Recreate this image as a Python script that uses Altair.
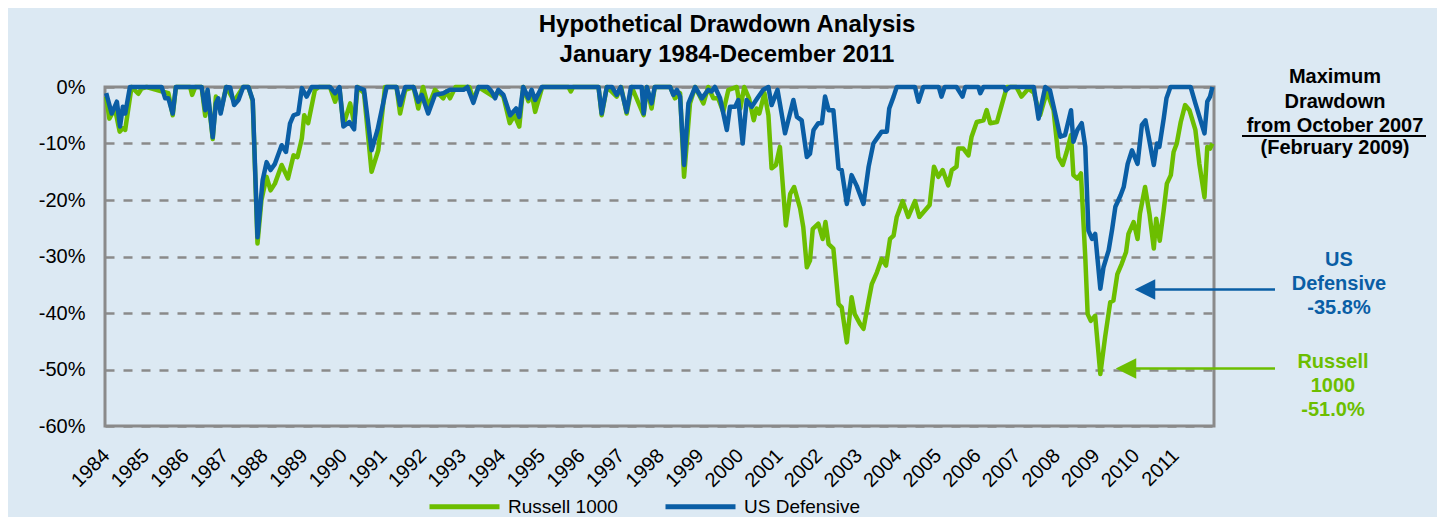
import altair as alt
import pandas as pd

# ---------------- data ----------------
russell_years = [
    1984.03, 1984.11, 1984.25, 1984.37, 1984.45, 1984.51, 1984.67, 1984.84, 1984.92, 1985.05,
    1985.60, 1985.71, 1985.79, 1986.15, 1986.20, 1986.28, 1986.44, 1986.53, 1986.59, 1986.72,
    1986.80, 1986.92, 1987.06, 1987.26, 1987.49, 1987.62, 1987.73, 1987.85, 1987.95, 1988.08,
    1988.18, 1988.29, 1988.46, 1988.62, 1988.76, 1988.86, 1988.97, 1989.03, 1989.13, 1989.30,
    1989.40, 1989.68, 1989.81, 1989.92, 1990.02, 1990.19, 1990.29, 1990.38, 1990.54, 1990.73,
    1990.90, 1991.07, 1991.36, 1991.45, 1991.58, 1991.79, 1991.91, 1992.03, 1992.16, 1992.33,
    1992.54, 1992.62, 1992.71, 1992.85, 1993.20, 1993.30, 1993.43, 1993.81, 1993.93, 1994.06,
    1994.22, 1994.34, 1994.46, 1994.56, 1994.69, 1994.77, 1994.86, 1995.04, 1995.70, 1995.76,
    1995.82, 1996.46, 1996.54, 1996.67, 1996.92, 1997.03, 1997.17, 1997.30, 1997.60, 1997.68,
    1997.80, 1997.88, 1998.27, 1998.39, 1998.52, 1998.62, 1998.77, 1998.90, 1999.11, 1999.23,
    1999.36, 1999.48, 1999.61, 1999.74, 1999.95, 2000.04, 2000.14, 2000.26, 2000.38, 2000.45,
    2000.52, 2000.65, 2000.75, 2000.83, 2000.94, 2001.04, 2001.19, 2001.30, 2001.40, 2001.55,
    2001.63, 2001.72, 2001.80, 2001.87, 2002.01, 2002.12, 2002.19, 2002.27, 2002.39, 2002.52,
    2002.60, 2002.73, 2002.85, 2002.93, 2003.07, 2003.15, 2003.28, 2003.36, 2003.49, 2003.61,
    2003.72, 2003.82, 2003.91, 2003.99, 2004.14, 2004.28, 2004.45, 2004.56, 2004.82, 2004.93,
    2005.04, 2005.15, 2005.29, 2005.38, 2005.50, 2005.54, 2005.67, 2005.80, 2005.88, 2006.01,
    2006.18, 2006.26, 2006.35, 2006.52, 2006.64, 2006.77, 2007.01, 2007.14, 2007.31, 2007.45,
    2007.61, 2007.78, 2007.95, 2008.07, 2008.18, 2008.28, 2008.39, 2008.45, 2008.55, 2008.64,
    2008.75, 2008.81, 2008.89, 2009.00, 2009.13, 2009.25, 2009.38, 2009.46, 2009.56, 2009.67,
    2009.78, 2009.84, 2009.97, 2010.07, 2010.13, 2010.26, 2010.37, 2010.48, 2010.54, 2010.63,
    2010.73, 2010.81, 2010.91, 2010.98, 2011.06, 2011.16, 2011.27, 2011.38, 2011.53, 2011.63,
    2011.76, 2011.83, 2011.90, 2011.96,
]
russell_values = [
    -1.7, -5.6, -3.8, -7.9, -7.3, -7.6, 0.0, -1.2, -0.3, 0.0,
    -1.1, -5.0, 0.0, 0.0, -1.4, 0.0, 0.0, -5.1, -0.8, -9.2,
    -1.7, -4.4, 0.0, -2.5, 0.0, 0.0, -2.5, -27.7, -20.0, -15.9,
    -18.3, -17.1, -13.8, -16.2, -12.1, -12.4, -9.1, -5.0, -6.4, -0.5,
    0.0, 0.0, -2.6, -0.3, -6.7, -2.9, -6.4, 0.0, -1.1, -15.0,
    -11.2, 0.0, 0.0, -4.7, -0.5, 0.0, -3.8, 0.0, -3.5, -0.5,
    -2.0, -0.8, -2.0, 0.0, 0.0, -2.3, 0.0, -1.7, -0.8, -1.7,
    -6.4, -5.0, -7.0, 0.0, -2.5, -1.0, -4.4, 0.0, 0.0, -0.8,
    0.0, 0.0, -5.0, 0.0, -1.7, 0.0, -4.7, 0.0, -5.0, 0.0,
    -3.8, 0.0, 0.0, -2.0, -1.1, -15.9, -2.9, 0.0, -2.9, 0.0,
    -2.0, -2.0, -4.4, -0.5, 0.0, -3.8, 0.0, -2.0, -5.9, -3.8,
    -4.7, -1.1, -5.0, -14.4, -13.8, -10.6, -24.5, -18.9, -17.7, -21.5,
    -24.8, -31.9, -30.7, -25.1, -24.2, -26.9, -23.9, -27.8, -28.6, -38.4,
    -39.0, -45.2, -37.2, -40.2, -42.0, -42.8, -37.8, -34.9, -32.8, -30.4,
    -31.6, -26.9, -26.3, -23.0, -20.2, -23.0, -20.2, -23.0, -20.9, -14.1,
    -15.9, -14.7, -17.4, -14.7, -14.1, -10.9, -10.9, -12.1, -8.8, -6.2,
    -5.9, -4.1, -6.4, -6.2, -3.2, 0.0, 0.0, -1.7, -0.3, -1.0,
    -5.0, -0.8, -4.1, -12.4, -13.8, -11.5, -8.5, -15.6, -16.2, -15.3,
    -30.1, -40.2, -41.4, -40.5, -50.8, -44.3, -38.1, -37.8, -33.1, -31.3,
    -29.2, -26.0, -23.9, -26.9, -22.4, -17.7, -22.4, -28.6, -23.3, -27.2,
    -21.8, -17.1, -15.6, -11.5, -10.0, -6.2, -3.2, -4.1, -7.6, -13.6,
    -19.5, -10.6, -10.9, -10.0,
]

defensive_years = [
    1984.03, 1984.17, 1984.30, 1984.38, 1984.45, 1984.51, 1984.63, 1985.43, 1985.52, 1985.60,
    1985.71, 1985.79, 1986.44, 1986.53, 1986.59, 1986.72, 1986.80, 1986.86, 1986.92, 1987.06,
    1987.16, 1987.26, 1987.37, 1987.49, 1987.62, 1987.73, 1987.85, 1987.98, 1988.08, 1988.18,
    1988.29, 1988.46, 1988.57, 1988.67, 1988.76, 1988.88, 1988.97, 1989.09, 1989.22, 1989.68,
    1989.81, 1989.92, 1990.02, 1990.17, 1990.29, 1990.36, 1990.54, 1990.73, 1990.88, 1991.11,
    1991.36, 1991.45, 1991.58, 1991.79, 1991.91, 1992.00, 1992.16, 1992.33, 1992.54, 1992.71,
    1993.05, 1993.15, 1993.30, 1993.43, 1993.66, 1993.76, 1993.85, 1993.93, 1994.06, 1994.23,
    1994.38, 1994.46, 1994.56, 1994.69, 1994.77, 1994.86, 1995.03, 1996.46, 1996.54, 1996.67,
    1996.80, 1996.92, 1997.02, 1997.17, 1997.28, 1997.55, 1997.60, 1997.68, 1997.80, 1997.88,
    1998.27, 1998.35, 1998.44, 1998.52, 1998.62, 1998.73, 1998.90, 1999.07, 1999.23, 1999.31,
    1999.40, 1999.53, 1999.70, 1999.78, 1999.91, 1999.99, 2000.10, 2000.20, 2000.33, 2000.47,
    2000.62, 2000.75, 2000.83, 2000.98, 2001.17, 2001.38, 2001.47, 2001.59, 2001.72, 2001.80,
    2001.89, 2002.01, 2002.10, 2002.18, 2002.27, 2002.39, 2002.52, 2002.60, 2002.73, 2002.85,
    2002.98, 2003.15, 2003.28, 2003.40, 2003.49, 2003.61, 2003.74, 2003.80, 2003.91, 2003.99,
    2004.45, 2004.54, 2004.66, 2005.05, 2005.12, 2005.20, 2005.50, 2005.65, 2005.72, 2006.05,
    2006.10, 2006.18, 2006.70, 2006.74, 2006.85, 2007.45, 2007.57, 2007.74, 2007.86, 2007.99,
    2008.12, 2008.24, 2008.39, 2008.45, 2008.55, 2008.66, 2008.75, 2008.83, 2008.92, 2009.00,
    2009.13, 2009.21, 2009.34, 2009.43, 2009.51, 2009.64, 2009.72, 2009.82, 2009.93, 2010.07,
    2010.18, 2010.27, 2010.35, 2010.48, 2010.56, 2010.62, 2010.73, 2010.80, 2010.90, 2011.41,
    2011.53, 2011.66, 2011.76, 2011.83, 2011.90, 2011.96,
]
defensive_values = [
    -1.1, -4.7, -2.6, -7.0, -3.5, -4.7, 0.0, 0.0, -2.0, -2.0,
    -4.7, 0.0, 0.0, -4.1, -0.5, -8.9, -2.9, -2.0, -4.7, 0.0,
    -0.1, -3.2, -2.3, 0.0, 0.0, -2.3, -26.6, -16.5, -13.3, -14.7,
    -13.6, -10.3, -11.5, -6.5, -5.0, -4.7, -0.2, -1.7, 0.0, 0.0,
    -1.1, 0.0, -7.0, -6.2, -7.5, 0.0, -0.5, -11.2, -7.6, 0.0,
    0.0, -3.2, 0.0, 0.0, -2.6, -1.4, -4.7, -1.4, -1.1, -0.5,
    -0.5, 0.0, -2.8, 0.0, 0.0, -0.8, -2.0, -0.5, -1.4, -5.0,
    -3.8, -5.3, 0.0, -2.0, -0.5, -2.3, 0.0, 0.0, -4.7, 0.0,
    0.0, -1.4, 0.0, -4.4, 0.0, 0.0, -4.7, 0.0, -2.9, 0.0,
    0.0, -1.4, -0.5, -1.7, -13.8, -2.9, 0.0, -2.0, -0.5, -0.8,
    0.0, -2.0, -7.6, -3.5, -3.5, -2.3, -10.0, -2.3, -3.5, -2.0,
    -0.5, 0.0, -3.2, -0.5, -8.2, -2.3, -5.3, -5.9, -12.4, -11.8,
    -7.6, -6.4, -6.4, -1.7, -4.1, -4.1, -14.4, -14.7, -20.7, -15.6,
    -17.5, -20.7, -14.1, -10.0, -9.1, -7.9, -7.9, -3.8, -1.7, 0.0,
    0.0, -2.6, 0.0, 0.0, -1.7, 0.0, 0.0, -1.7, 0.0, 0.0,
    -1.1, 0.0, 0.0, -0.6, 0.0, 0.0, -5.6, 0.0, -0.6, -4.7,
    -8.8, -8.5, -4.1, -9.7, -7.6, -6.4, -10.6, -25.4, -26.9, -26.0,
    -35.7, -31.9, -28.9, -25.1, -21.2, -19.2, -17.7, -13.6, -11.2, -13.6,
    -6.7, -5.9, -8.8, -13.8, -10.0, -10.6, -5.6, -2.0, 0.0, 0.0,
    -2.9, -5.9, -8.2, -2.6, -1.7, 0.0,
]

series_names = ["Russell 1000", "US Defensive"]
year_ticks = list(range(1984, 2012))
pct_ticks = [0, -10, -20, -30, -40, -50, -60]

# ---------------- styling ----------------
GREEN = "#6CBE00"
BLUE = "#0A5EA5"
GREY = "#8A8A8A"
BG = "#DCE9F3"
FONT = "Liberation Sans"
W, H = 1109, 339

df = pd.concat([
    pd.DataFrame({"year": russell_years, "value": russell_values, "series": series_names[0]}),
    pd.DataFrame({"year": defensive_years, "value": defensive_values, "series": series_names[1]}),
], ignore_index=True)

x_enc = alt.X(
    "year:Q",
    scale=alt.Scale(domain=[1984, 2012], nice=False, zero=False),
    axis=alt.Axis(values=year_ticks, format="d", labelAngle=-45, labelAlign="right",
                  labelBaseline="top", labelFont=FONT, labelFontSize=20, labelColor="black",
                  ticks=False, tickSize=0, domain=False, grid=False, labelPadding=19,
                  labelOffset=-6, labelOverlap=False, title=None),
)
y_enc = alt.Y(
    "value:Q",
    scale=alt.Scale(domain=[-60, 0], nice=False, zero=False),
    axis=alt.Axis(values=pct_ticks, labelExpr="datum.value + '%'", labelFont=FONT,
                  labelFontSize=20, labelColor="black", ticks=False, tickSize=0,
                  domain=False, grid=True, gridColor=GREY, gridDash=[9, 9], gridWidth=2.5,
                  labelPadding=20, title=None),
)
color_enc = alt.Color(
    "series:N",
    scale=alt.Scale(domain=series_names, range=[GREEN, BLUE]),
    legend=alt.Legend(orient="none", legendX=322, legendY=382, direction="horizontal",
                      title=None, symbolType="stroke", symbolSize=4900, symbolStrokeWidth=5,
                      labelFont=FONT, labelFontSize=19, labelColor="black",
                      columnPadding=37, labelOffset=6, padding=0),
)

base = alt.Chart(df)
lines_green = base.transform_filter(alt.datum.series == series_names[0]).mark_line(
    strokeWidth=4.5, strokeJoin="round").encode(x=x_enc, y=y_enc, color=color_enc)
lines_blue = base.transform_filter(alt.datum.series == series_names[1]).mark_line(
    strokeWidth=4.5, strokeJoin="round").encode(x=x_enc, y=y_enc, color=color_enc)

one = pd.DataFrame({"k": [0]})


def label(text, px, py, color="black", size=20, weight="bold"):
    return alt.Chart(one).mark_text(
        font=FONT, fontSize=size, fontWeight=weight, color=color,
        align="center", baseline="alphabetic",
    ).encode(x=alt.value(px), y=alt.value(py), text=alt.value(text))


def shaft(x1, x2, py, color):
    return alt.Chart(one).mark_rule(color=color, strokeWidth=2.5).encode(
        x=alt.value(x1), x2=alt.value(x2), y=alt.value(py))


def head(px, py, color):
    return alt.Chart(one).mark_point(
        shape="M-1,0L1,-1L1,1Z", size=420, filled=True, fill=color, stroke=None, opacity=1
    ).encode(x=alt.value(px), y=alt.value(py))


texts = [
    label("Hypothetical Drawdown Analysis", 622, -55, size=24),
    label("January 1984-December 2011", 622, -25, size=24),
    label("Maximum", 1230, -4, size=20),
    label("Drawdown", 1230, 21, size=20),
    label("from October 2007", 1230, 45, size=20),
    label("(February 2009)", 1230, 67, size=20),
    label("US", 1234, 179, color=BLUE),
    label("Defensive", 1234, 203, color=BLUE),
    label("-35.8%", 1234, 227, color=BLUE),
    label("Russell", 1228, 281, color=GREEN),
    label("1000", 1228, 305, color=GREEN),
    label("-51.0%", 1228, 329, color=GREEN),
]
underline = alt.Chart(one).mark_rule(color="black", strokeWidth=2).encode(
    x=alt.value(1137), x2=alt.value(1321), y=alt.value(49))

arrows = [
    shaft(1045, 1170, 202.5, BLUE), head(1040, 202.5, BLUE),
    shaft(1026, 1170, 281.5, GREEN), head(1021, 281.5, GREEN),
]

chart = alt.layer(lines_green, lines_blue, *texts, underline, *arrows).properties(
    width=W, height=H,
    autosize=alt.AutoSizeParams(type="none"),
    padding={"left": 97, "top": 79, "right": 223, "bottom": 91},
    background=BG,
).configure_view(stroke=GREY, strokeWidth=3).resolve_scale(color="shared")

chart.save("out.html", embed_options={"renderer": "svg", "actions": False})
